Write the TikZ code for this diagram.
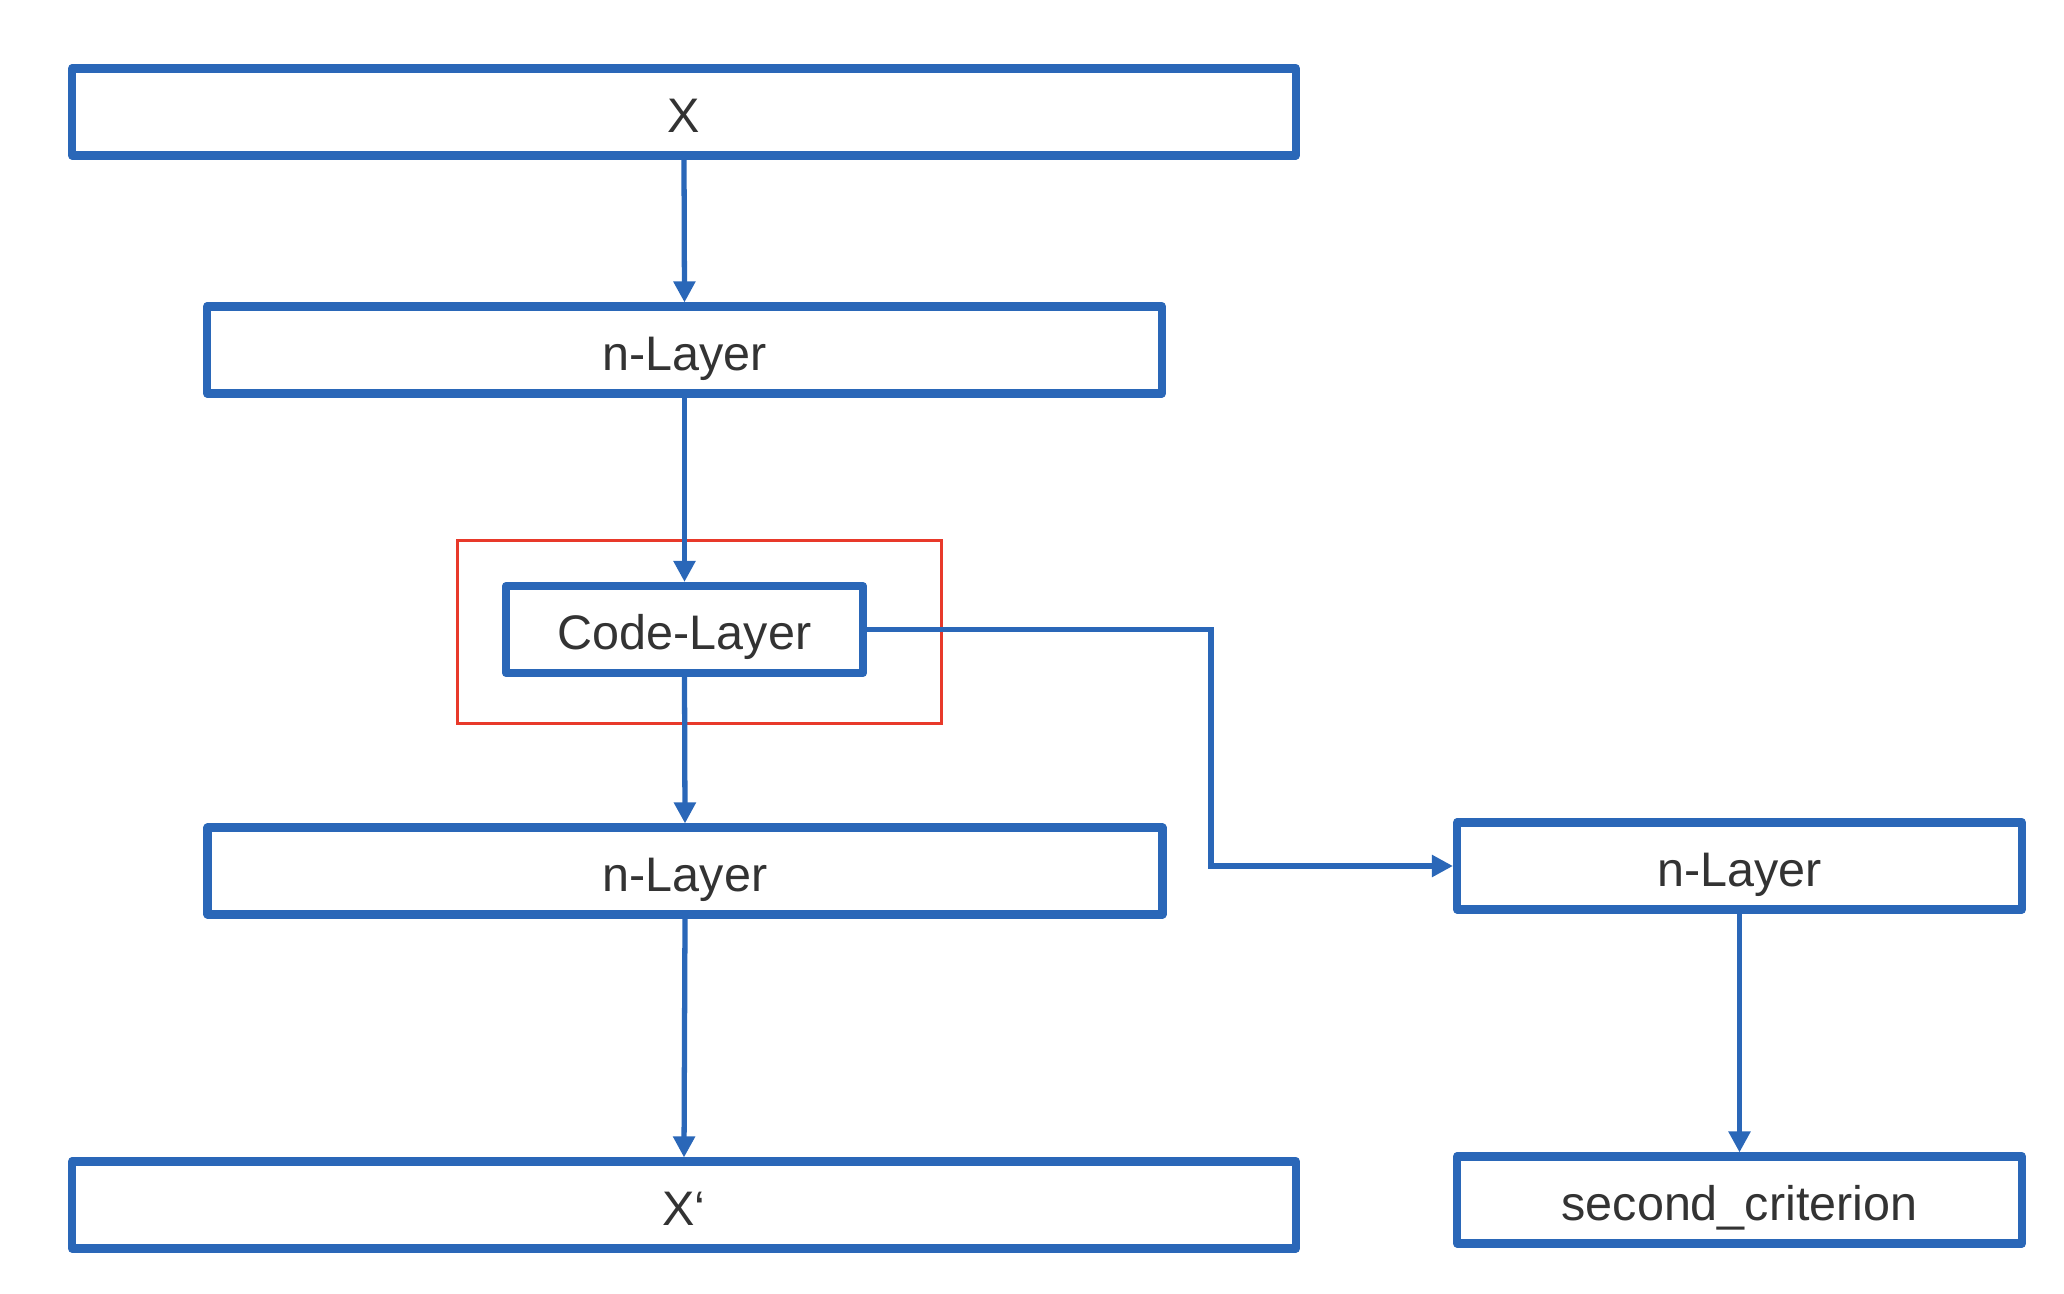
\documentclass[tikz,border=0pt]{standalone}
\usepackage{fontspec}
\setmainfont{Liberation Sans}
\usetikzlibrary{arrows.meta,calc,positioning}
\definecolor{layerblue}{HTML}{2A67B8}
\definecolor{focusred}{HTML}{E8392A}
\definecolor{txtgray}{HTML}{333333}
\tikzset{pin/.style={-{Triangle[length=6pt, width=6pt]}, draw=layerblue, line width=1.5pt},
  blk/.style={draw=layerblue, line width=2.3pt, line join=round, fill=white, text=txtgray,
    minimum height=8.7mm, text height=11.5pt, text depth=0pt,
    font=\fontsize{13.8}{16}\selectfont},
  focus/.style={draw=focusred, line width=1pt}}

\begin{document}
\begin{tikzpicture}
  \useasboundingbox (0,0) rectangle (20.64,-12.94);
  \node[focus, minimum width=4.84cm, minimum height=1.83cm] (frame) at (6.995,-6.32) {};
  \node[blk, minimum width=12.24cm] (xin) at (6.84,-1.12) {X};
  \node[blk, minimum width=9.55cm] (enc) at (6.845,-3.50) {n-Layer};
  \node[blk, minimum width=3.57cm] (code) at (6.845,-6.295) {Code-Layer};
  \node[blk, minimum width=9.55cm] (dec) at (6.85,-8.71) {n-Layer};
  \node[blk, minimum width=12.24cm] (xout) at (6.84,-12.05) {X‘};
  \node[blk, minimum width=5.65cm] (side) at (17.395,-8.66) {n-Layer};
  \node[blk, minimum width=5.65cm] (crit) at (17.395,-12.00) {second\_criterion};
  \coordinate (bend) at (12.11,-6.295);
  \draw[pin] (xin.south) -- (enc.north);
  \draw[pin] (enc.south) -- (code.north);
  \draw[pin] (code.south) -- (dec.north);
  \draw[pin] (dec.south) -- (xout.north);
  \draw[pin] (code.east) -- (bend) |- (side.west);
  \draw[pin] (side.south) -- (crit.north);
\end{tikzpicture}
\end{document}
